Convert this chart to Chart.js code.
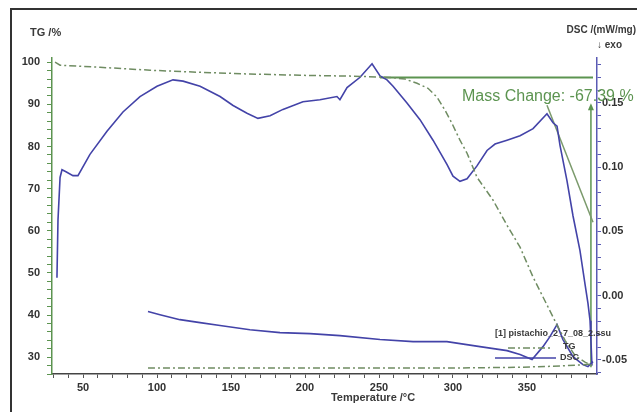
<!DOCTYPE html>
<html>
<head>
<meta charset="utf-8">
<script src="https://cdn.jsdelivr.net/npm/chart.js@4.4.0/dist/chart.umd.min.js"></script>
<style>
  html, body { margin: 0; padding: 0; background: #fff; }
  canvas { display: block; }
</style>
</head>
<body>
<canvas id="tgaChart" width="637" height="412"></canvas>
<script>
// Temperatura (°C) e sinais
const dscTemp = [32.4, 33.1, 34.5, 35.8, 38.5, 43.2, 46.6, 54.7, 66.2, 77.0, 88.5, 100.0, 110.8, 117.6, 129.1, 142.6, 151.4, 160.8, 168.2, 176.4, 185.1, 198.6, 210.1, 221.6, 223.6, 228.4, 237.2, 245.3, 250.7, 255.4, 259.5, 268.9, 277.7, 286.5, 296.0, 300.0, 304.7, 309.5, 316.2, 323.0, 328.4, 336.5, 345.3, 354.1, 363.5, 367.6, 370.3, 372.3, 377.0, 381.1, 385.8, 389.2, 391.2, 392.6, 393.2, 393.9];
const dscValue = [0.014, 0.059, 0.092, 0.098, 0.0965, 0.0934, 0.0934, 0.110, 0.128, 0.143, 0.155, 0.163, 0.168, 0.167, 0.163, 0.155, 0.148, 0.142, 0.138, 0.140, 0.145, 0.151, 0.1525, 0.155, 0.1525, 0.162, 0.170, 0.1805, 0.171, 0.168, 0.163, 0.150, 0.137, 0.121, 0.102, 0.093, 0.089, 0.091, 0.101, 0.113, 0.118, 0.121, 0.1245, 0.130, 0.1416, 0.1346, 0.132, 0.117, 0.0895, 0.062, 0.035, 0.009, -0.006, -0.0195, -0.035, -0.0545];

const dscLowTemp = [93.9, 102.0, 115.5, 129.1, 142.6, 162.8, 183.1, 203.4, 223.6, 250.7, 273.0, 295.9, 318.2, 336.5, 345.3, 353.4, 360.8, 365.5, 370.3, 374.3, 381.1, 387.8, 391.2, 394.6];
const dscLowValue = [-0.0124, -0.0148, -0.0187, -0.021, -0.0233, -0.0265, -0.0288, -0.0296, -0.0311, -0.0342, -0.0358, -0.0358, -0.0397, -0.0428, -0.0459, -0.0498, -0.0397, -0.0319, -0.0226, -0.0342, -0.0475, -0.0537, -0.0553, -0.0514];

const tgTemp = [31.1, 34.5, 61.5, 95.3, 129.1, 162.8, 196.6, 230.4, 257.4, 267.6, 275.7, 283.1, 289.2, 294.6, 299.3, 304.7, 309.5, 316.2, 327.0, 336.5, 345.3, 354.1, 364.2, 370.3, 375.7, 382.4, 389.2, 393.9];
const tgValue = [100.0, 99.3, 98.8, 98.1, 97.6, 97.2, 96.9, 96.7, 96.4, 96.0, 95.0, 93.8, 91.7, 88.6, 85.5, 81.5, 78.4, 72.7, 67.3, 61.3, 56.1, 49.0, 41.9, 37.6, 34.0, 30.4, 28.8, 28.1];

const tgLowTemp = [93.9, 196.6, 298.0, 345.3, 372.3, 392.6];
const tgLowValue = [27.4, 27.4, 27.4, 27.6, 27.9, 28.3];

// Linhas da anotação "Mass Change"
const stepTemp = [250.7, 394.6];
const stepValue = [96.4, 96.4];
const tangentTemp = [363.5, 394.6];
const tangentValue = [89.8, 62.0];
const arrowTemp = [393.2, 393.2];
const arrowValue = [27.6, 89.1];

// Rótulos dos eixos
const tempLabels = [50, 100, 150, 200, 250, 300, 350];
const tgLabels = [30, 40, 50, 60, 70, 80, 90, 100];
const dscLabels = [-0.05, 0.00, 0.05, 0.10, 0.15];

const massChangeText = 'Mass Change: -67.39 %';
const legendTitle = '[1] pistachio_2_7_08_2.ssu';

const DSC_COR = '#4343a8';
const TG_COR = '#6f8c62';
const VERDE = '#5c9450';

function pares(xs, ys) {
  return xs.map((x, i) => ({ x: x, y: ys[i] }));
}

function serie(passo, ini, fim) {
  const out = [];
  for (let v = ini; v <= fim + 1e-9; v += passo) out.push(Math.round(v * 1000) / 1000);
  return out;
}

function temRotulo(lista, v) {
  return lista.some(l => Math.abs(l - v) < 1e-6);
}

const fonteEixo = { family: 'Liberation Sans, Arial, sans-serif', size: 11, weight: 'bold' };

/* ── textos, moldura e legenda ── */
const extras = {
  id: 'extras',
  afterDatasetsDraw(chart) {
    const { ctx, scales } = chart;
    const x = scales.x, tg = scales.tg;
    ctx.save();

    // moldura (só esquerda e topo aparecem no recorte)
    ctx.strokeStyle = '#333';
    ctx.lineWidth = 2;
    ctx.beginPath();
    ctx.moveTo(11, 412);
    ctx.lineTo(11, 9);
    ctx.lineTo(637, 9);
    ctx.stroke();

    ctx.fillStyle = '#3a3a3a';
    ctx.font = 'bold 11px Liberation Sans, Arial, sans-serif';
    ctx.textBaseline = 'middle';
    ctx.textAlign = 'left';
    ctx.fillText('TG /%', 30, 33);
    ctx.font = 'bold 10px Liberation Sans, Arial, sans-serif';
    ctx.textAlign = 'right';
    ctx.fillText('DSC /(mW/mg)', 636, 30);
    ctx.fillText('\u2193 exo', 622, 45);

    ctx.font = 'bold 11px Liberation Sans, Arial, sans-serif';
    ctx.textAlign = 'center';
    ctx.fillText('Temperature /\u00b0C', x.getPixelForValue(246), 398);

    // anotação de perda de massa
    ctx.fillStyle = VERDE;
    ctx.font = '16px Liberation Sans, Arial, sans-serif';
    ctx.textAlign = 'left';
    ctx.fillText(massChangeText, 462, 97);

    // ponta da seta
    const ax = x.getPixelForValue(arrowTemp[1]);
    const ay = tg.getPixelForValue(arrowValue[1]);
    ctx.beginPath();
    ctx.moveTo(ax, ay - 5);
    ctx.lineTo(ax - 3, ay + 2);
    ctx.lineTo(ax + 3, ay + 2);
    ctx.closePath();
    ctx.fill();

    // legenda
    ctx.fillStyle = '#3a3a3a';
    ctx.font = 'bold 9px Liberation Sans, Arial, sans-serif';
    ctx.textAlign = 'left';
    ctx.fillText(legendTitle, 495, 334);
    ctx.fillText('TG', 563, 347);
    ctx.fillText('DSC', 560, 358);

    ctx.lineWidth = 1.5;
    ctx.strokeStyle = TG_COR;
    ctx.setLineDash([7, 3, 2, 3]);
    ctx.beginPath();
    ctx.moveTo(508, 348);
    ctx.lineTo(553, 348);
    ctx.stroke();
    ctx.setLineDash([]);
    ctx.strokeStyle = DSC_COR;
    ctx.beginPath();
    ctx.moveTo(495, 358);
    ctx.lineTo(556, 358);
    ctx.stroke();

    ctx.restore();
  }
};

const ctx = document.getElementById('tgaChart').getContext('2d');
new Chart(ctx, {
  type: 'line',
  data: {
    datasets: [
      { data: pares(tgTemp, tgValue), yAxisID: 'tg', borderColor: TG_COR, borderWidth: 1.5, borderDash: [7, 3, 2, 3] },
      { data: pares(tgLowTemp, tgLowValue), yAxisID: 'tg', borderColor: TG_COR, borderWidth: 1.5, borderDash: [7, 3, 2, 3] },
      { data: pares(dscTemp, dscValue), yAxisID: 'dsc', borderColor: DSC_COR, borderWidth: 1.6 },
      { data: pares(dscLowTemp, dscLowValue), yAxisID: 'dsc', borderColor: DSC_COR, borderWidth: 1.6 },
      { data: pares(stepTemp, stepValue), yAxisID: 'tg', borderColor: VERDE, borderWidth: 2 },
      { data: pares(tangentTemp, tangentValue), yAxisID: 'tg', borderColor: '#7b9a6c', borderWidth: 1.5 },
      { data: pares(arrowTemp, arrowValue), yAxisID: 'tg', borderColor: VERDE, borderWidth: 1.5 }
    ]
  },
  options: {
    responsive: false,
    animation: false,
    layout: { padding: { top: 58, left: 0, right: 0, bottom: 0 } },
    elements: { point: { radius: 0 }, line: { tension: 0, fill: false } },
    plugins: { legend: { display: false }, tooltip: { enabled: false } },
    scales: {
      x: {
        type: 'linear',
        min: 29.05,
        max: 397.3,
        afterFit: axis => { axis.height = 38; },
        afterBuildTicks: axis => { axis.ticks = serie(10, 30, 390).map(v => ({ value: v })); },
        ticks: {
          autoSkip: false, maxRotation: 0, padding: 3, color: '#333', font: fonteEixo,
          callback: v => temRotulo(tempLabels, v) ? String(v) : ''
        },
        grid: { drawOnChartArea: false, drawTicks: true, tickLength: 4, color: '#555' },
        border: { color: '#444', width: 1.5 }
      },
      tg: {
        type: 'linear',
        position: 'left',
        min: 26,
        max: 101,
        afterFit: axis => { axis.width = 52; },
        afterBuildTicks: axis => { axis.ticks = serie(2, 26, 100).map(v => ({ value: v })); },
        ticks: {
          autoSkip: false, padding: 7, color: '#333', font: fonteEixo,
          callback: v => temRotulo(tgLabels, v) ? String(v) : ''
        },
        grid: { drawOnChartArea: false, drawTicks: true, tickLength: 5, color: VERDE },
        border: { color: VERDE, width: 1.5 }
      },
      dsc: {
        type: 'linear',
        position: 'right',
        min: -0.061,
        max: 0.185,
        afterFit: axis => { axis.width = 40; },
        afterBuildTicks: axis => { axis.ticks = serie(0.01, -0.06, 0.18).map(v => ({ value: v })); },
        ticks: {
          autoSkip: false, padding: 1, color: '#333', font: fonteEixo,
          callback: v => temRotulo(dscLabels, v) ? Number(v).toFixed(2) : ''
        },
        grid: { drawOnChartArea: false, drawTicks: true, tickLength: 4, color: '#5a5ab4' },
        border: { color: '#5a5ab4', width: 1.5 }
      }
    }
  },
  plugins: [extras]
});
</script>
</body>
</html>
